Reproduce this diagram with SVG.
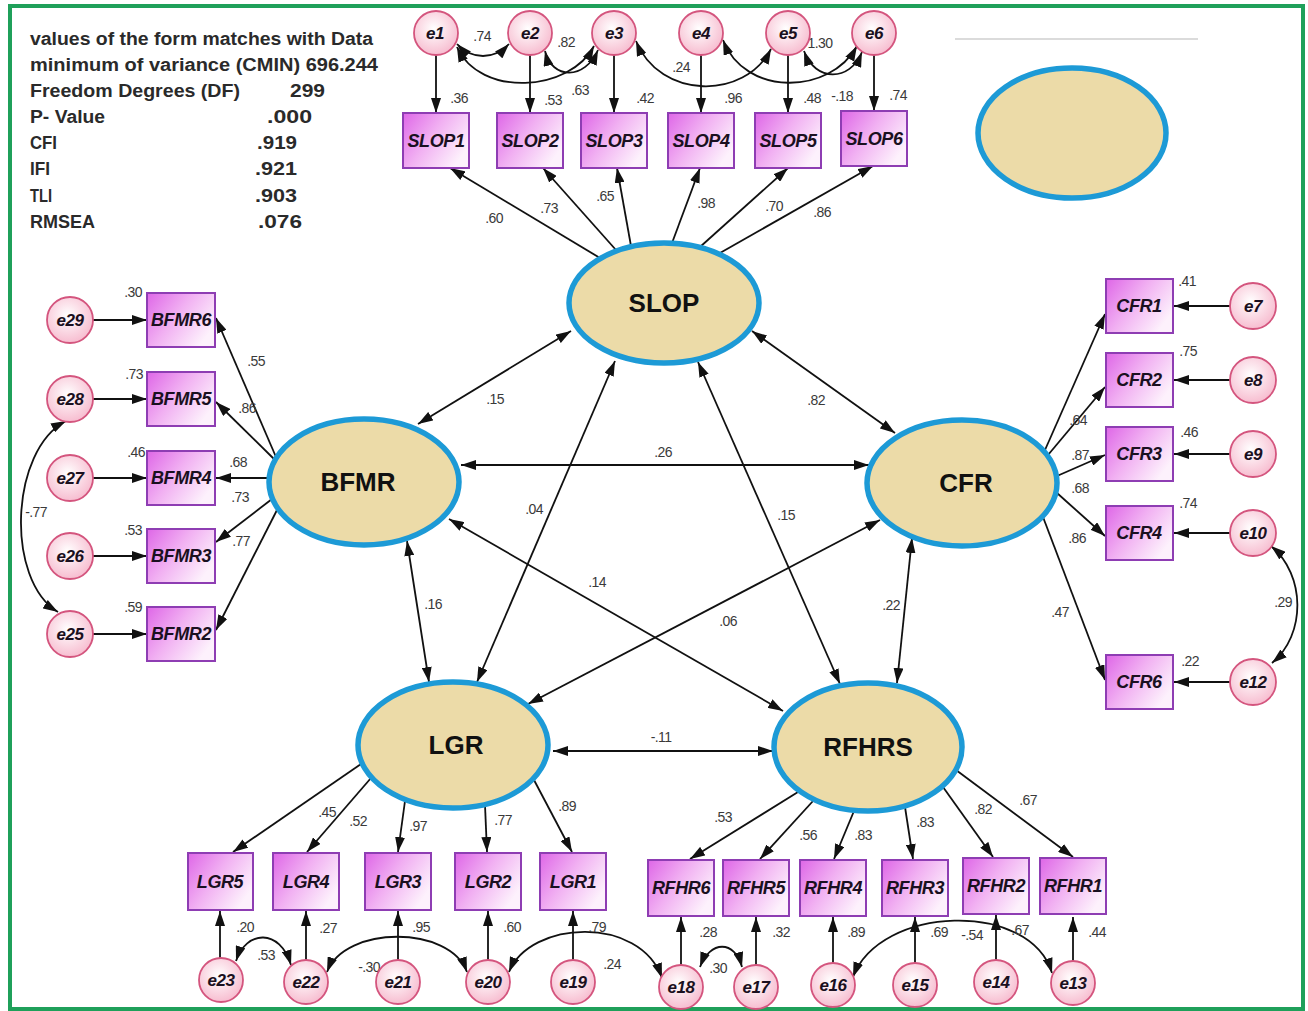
<svg xmlns="http://www.w3.org/2000/svg" width="1308" height="1011" viewBox="0 0 1308 1011">
<style>
.lbl{font-family:'Liberation Sans',Arial,sans-serif;font-size:14px;fill:#3a3a3a;text-anchor:middle;letter-spacing:-0.6px}
.bx{font-family:'Liberation Sans',Arial,sans-serif;font-size:18px;font-weight:bold;font-style:italic;fill:#1a1020;text-anchor:middle;letter-spacing:-0.4px}
.el{font-family:'Liberation Sans',Arial,sans-serif;font-size:17px;font-weight:bold;font-style:italic;fill:#1a1020;text-anchor:middle;letter-spacing:-0.4px}
.lt{font-family:'Liberation Sans',Arial,sans-serif;font-size:26px;font-weight:bold;fill:#111;text-anchor:middle}
.hd{font-family:'Liberation Sans',Arial,sans-serif;font-size:17.5px;font-weight:bold;fill:#2a2a2a}
.box{fill:url(#bg);stroke:#8e3db3;stroke-width:2}
.err{fill:url(#eg);stroke:#d4557e;stroke-width:1.8}
.lat{fill:#ecdba8;stroke:#1d9ad6;stroke-width:5.5}
.ln{stroke:#111;stroke-width:1.8;fill:none;marker-end:url(#ah)}
.dl{stroke:#111;stroke-width:1.8;fill:none;marker-start:url(#ah);marker-end:url(#ah)}
</style>
<defs>
<linearGradient id="bg" x1="0" y1="0" x2="1" y2="0.6">
<stop offset="0" stop-color="#de66e7"/>
<stop offset="0.5" stop-color="#f1b0f2"/>
<stop offset="1" stop-color="#fdf1fc"/>
</linearGradient>
<radialGradient id="eg" cx="0.45" cy="0.4" r="0.6">
<stop offset="0" stop-color="#ffffff"/>
<stop offset="1" stop-color="#f7bdd0"/>
</radialGradient>
<marker id="ah" viewBox="0 0 15 10" refX="15" refY="5" markerWidth="15" markerHeight="10" markerUnits="userSpaceOnUse" orient="auto-start-reverse">
<path d="M0,0 L15,5 L0,10 z" fill="#111"/>
</marker>
</defs>
<rect x="0" y="0" width="1308" height="1011" fill="#ffffff"/>
<rect x="10" y="6" width="1293" height="1003" fill="none" stroke="#1fa05a" stroke-width="4"/>
<line x1="955" y1="39" x2="1198" y2="39" stroke="#cfcfcf" stroke-width="1.5"/>

<g id="fit-stats">
<text class="hd" x="30" y="45" textLength="343" lengthAdjust="spacingAndGlyphs">values of the form matches with Data</text>
<text class="hd" x="30" y="71" textLength="348" lengthAdjust="spacingAndGlyphs">minimum of variance (CMIN) 696.244</text>
<text class="hd" x="30" y="97" textLength="210" lengthAdjust="spacingAndGlyphs">Freedom Degrees (DF)</text>
<text class="hd" x="290" y="97" textLength="35" lengthAdjust="spacingAndGlyphs">299</text>
<text class="hd" x="30" y="123" textLength="75" lengthAdjust="spacingAndGlyphs">P- Value</text>
<text class="hd" x="267" y="123" textLength="45" lengthAdjust="spacingAndGlyphs">.000</text>
<text class="hd" x="30" y="149" textLength="27" lengthAdjust="spacingAndGlyphs">CFI</text>
<text class="hd" x="257" y="149" textLength="40" lengthAdjust="spacingAndGlyphs">.919</text>
<text class="hd" x="30" y="175" textLength="20" lengthAdjust="spacingAndGlyphs">IFI</text>
<text class="hd" x="255" y="175" textLength="42" lengthAdjust="spacingAndGlyphs">.921</text>
<text class="hd" x="30" y="202" textLength="22" lengthAdjust="spacingAndGlyphs">TLI</text>
<text class="hd" x="255" y="202" textLength="42" lengthAdjust="spacingAndGlyphs">.903</text>
<text class="hd" x="30" y="228" textLength="65" lengthAdjust="spacingAndGlyphs">RMSEA</text>
<text class="hd" x="258" y="228" textLength="44" lengthAdjust="spacingAndGlyphs">.076</text>
</g>

<g id="connectors">
<line class="ln" x1="436" y1="55" x2="436" y2="113"/>
<line class="ln" x1="530" y1="55" x2="530" y2="113"/>
<line class="ln" x1="614" y1="55" x2="614" y2="113"/>
<line class="ln" x1="701" y1="55" x2="701" y2="113"/>
<line class="ln" x1="788" y1="55" x2="788" y2="113"/>
<line class="ln" x1="874" y1="55" x2="874" y2="111"/>
<path class="dl" d="M457,44 C472,60 494,60 509,44"/>
<path class="dl" d="M457,47 C480,98 570,92 594,46"/>
<path class="dl" d="M545,51 C552,80 585,80 598,50"/>
<path class="dl" d="M636,41 C660,100 745,100 771,49"/>
<path class="dl" d="M723,40 C745,97 830,95 857,46"/>
<path class="dl" d="M804,51 C815,82 850,82 862,52"/>
<line class="ln" x1="600" y1="258" x2="450" y2="168"/>
<line class="ln" x1="616" y1="250" x2="543" y2="168"/>
<line class="ln" x1="631" y1="246" x2="617" y2="168"/>
<line class="ln" x1="672" y1="243" x2="700" y2="168"/>
<line class="ln" x1="700" y1="247" x2="788" y2="168"/>
<line class="ln" x1="720" y1="253" x2="873" y2="166"/>
<line class="ln" x1="93" y1="320" x2="147" y2="320"/>
<line class="ln" x1="93" y1="399" x2="147" y2="399"/>
<line class="ln" x1="93" y1="478" x2="147" y2="478"/>
<line class="ln" x1="93" y1="556" x2="147" y2="556"/>
<line class="ln" x1="93" y1="634" x2="147" y2="634"/>
<path class="dl" d="M66,421 C10,450 5,580 58,612"/>
<line class="ln" x1="276" y1="457" x2="216" y2="318"/>
<line class="ln" x1="274" y1="459" x2="216" y2="402"/>
<line class="ln" x1="268" y1="478" x2="216" y2="478"/>
<line class="ln" x1="272" y1="499" x2="216" y2="542"/>
<line class="ln" x1="277" y1="510" x2="216" y2="630"/>
<line class="ln" x1="1230" y1="306" x2="1174" y2="306"/>
<line class="ln" x1="1230" y1="380" x2="1174" y2="380"/>
<line class="ln" x1="1230" y1="454" x2="1174" y2="454"/>
<line class="ln" x1="1230" y1="533" x2="1174" y2="533"/>
<line class="ln" x1="1230" y1="682" x2="1174" y2="682"/>
<path class="dl" d="M1271,546 C1306,575 1306,635 1272,663"/>
<line class="ln" x1="1045" y1="450" x2="1105" y2="314"/>
<line class="ln" x1="1048" y1="455" x2="1105" y2="387"/>
<line class="ln" x1="1057" y1="476" x2="1105" y2="455"/>
<line class="ln" x1="1057" y1="493" x2="1105" y2="536"/>
<line class="ln" x1="1043" y1="517" x2="1105" y2="680"/>
<line class="dl" x1="571" y1="331" x2="418" y2="424"/>
<line class="dl" x1="752" y1="331" x2="895" y2="433"/>
<line class="dl" x1="461" y1="465" x2="869" y2="465"/>
<line class="dl" x1="615" y1="361" x2="477" y2="682"/>
<line class="dl" x1="698" y1="362" x2="840" y2="684"/>
<line class="dl" x1="449" y1="519" x2="783" y2="711"/>
<line class="dl" x1="880" y1="520" x2="528" y2="704"/>
<line class="dl" x1="407" y1="541" x2="429" y2="682"/>
<line class="dl" x1="912" y1="538" x2="897" y2="683"/>
<line class="dl" x1="553" y1="751" x2="773" y2="751"/>
<line class="ln" x1="361" y1="764" x2="233" y2="852"/>
<line class="ln" x1="371" y1="778" x2="307" y2="852"/>
<line class="ln" x1="405" y1="801" x2="398" y2="852"/>
<line class="ln" x1="485" y1="805" x2="487" y2="852"/>
<line class="ln" x1="534" y1="780" x2="572" y2="852"/>
<line class="ln" x1="220" y1="958" x2="220" y2="911"/>
<line class="ln" x1="306" y1="960" x2="306" y2="911"/>
<line class="ln" x1="398" y1="960" x2="398" y2="911"/>
<line class="ln" x1="488" y1="960" x2="488" y2="911"/>
<line class="ln" x1="573" y1="960" x2="573" y2="911"/>
<path class="dl" d="M236,961 C246,930 280,928 291,965"/>
<path class="dl" d="M327,972 C345,925 450,925 467,972"/>
<path class="dl" d="M509,972 C530,920 640,915 662,978"/>
<line class="ln" x1="798" y1="792" x2="690" y2="859"/>
<line class="ln" x1="813" y1="801" x2="760" y2="859"/>
<line class="ln" x1="854" y1="811" x2="834" y2="859"/>
<line class="ln" x1="905" y1="807" x2="913" y2="859"/>
<line class="ln" x1="943" y1="787" x2="993" y2="857"/>
<line class="ln" x1="956" y1="770" x2="1073" y2="857"/>
<line class="ln" x1="681" y1="965" x2="681" y2="917"/>
<line class="ln" x1="756" y1="965" x2="756" y2="917"/>
<line class="ln" x1="833" y1="963" x2="833" y2="917"/>
<line class="ln" x1="915" y1="963" x2="915" y2="917"/>
<line class="ln" x1="996" y1="960" x2="996" y2="915"/>
<line class="ln" x1="1073" y1="961" x2="1073" y2="917"/>
<path class="dl" d="M700,967 C710,940 735,940 742,967"/>
<path class="dl" d="M853,977 C880,905 1030,900 1052,973"/>
</g>

<g id="labels">
<text class="lbl" x="482" y="41">.74</text>
<text class="lbl" x="566" y="47">.82</text>
<text class="lbl" x="459" y="103">.36</text>
<text class="lbl" x="553" y="105">.53</text>
<text class="lbl" x="580" y="95">.63</text>
<text class="lbl" x="645" y="103">.42</text>
<text class="lbl" x="681" y="72">.24</text>
<text class="lbl" x="733" y="103">.96</text>
<text class="lbl" x="818" y="48">-1.30</text>
<text class="lbl" x="812" y="103">.48</text>
<text class="lbl" x="842" y="101">-.18</text>
<text class="lbl" x="898" y="100">.74</text>
<text class="lbl" x="494" y="223">.60</text>
<text class="lbl" x="549" y="213">.73</text>
<text class="lbl" x="605" y="201">.65</text>
<text class="lbl" x="706" y="208">.98</text>
<text class="lbl" x="774" y="211">.70</text>
<text class="lbl" x="822" y="217">.86</text>
<text class="lbl" x="133" y="297">.30</text>
<text class="lbl" x="134" y="379">.73</text>
<text class="lbl" x="136" y="457">.46</text>
<text class="lbl" x="133" y="535">.53</text>
<text class="lbl" x="133" y="612">.59</text>
<text class="lbl" x="256" y="366">.55</text>
<text class="lbl" x="247" y="413">.86</text>
<text class="lbl" x="238" y="467">.68</text>
<text class="lbl" x="240" y="502">.73</text>
<text class="lbl" x="241" y="546">.77</text>
<text class="lbl" x="36" y="517">-.77</text>
<text class="lbl" x="1187" y="286">.41</text>
<text class="lbl" x="1188" y="356">.75</text>
<text class="lbl" x="1189" y="437">.46</text>
<text class="lbl" x="1188" y="508">.74</text>
<text class="lbl" x="1190" y="666">.22</text>
<text class="lbl" x="1078" y="425">.64</text>
<text class="lbl" x="1080" y="460">.87</text>
<text class="lbl" x="1080" y="493">.68</text>
<text class="lbl" x="1077" y="543">.86</text>
<text class="lbl" x="1060" y="617">.47</text>
<text class="lbl" x="1283" y="607">.29</text>
<text class="lbl" x="495" y="404">.15</text>
<text class="lbl" x="816" y="405">.82</text>
<text class="lbl" x="663" y="457">.26</text>
<text class="lbl" x="534" y="514">.04</text>
<text class="lbl" x="786" y="520">.15</text>
<text class="lbl" x="597" y="587">.14</text>
<text class="lbl" x="728" y="626">.06</text>
<text class="lbl" x="433" y="609">.16</text>
<text class="lbl" x="891" y="610">.22</text>
<text class="lbl" x="661" y="742">-.11</text>
<text class="lbl" x="327" y="817">.45</text>
<text class="lbl" x="358" y="826">.52</text>
<text class="lbl" x="418" y="831">.97</text>
<text class="lbl" x="503" y="825">.77</text>
<text class="lbl" x="567" y="811">.89</text>
<text class="lbl" x="245" y="932">.20</text>
<text class="lbl" x="328" y="933">.27</text>
<text class="lbl" x="421" y="932">.95</text>
<text class="lbl" x="512" y="932">.60</text>
<text class="lbl" x="597" y="932">.79</text>
<text class="lbl" x="266" y="960">.53</text>
<text class="lbl" x="369" y="972">-.30</text>
<text class="lbl" x="612" y="969">.24</text>
<text class="lbl" x="723" y="822">.53</text>
<text class="lbl" x="808" y="840">.56</text>
<text class="lbl" x="863" y="840">.83</text>
<text class="lbl" x="925" y="827">.83</text>
<text class="lbl" x="983" y="814">.82</text>
<text class="lbl" x="1028" y="805">.67</text>
<text class="lbl" x="708" y="937">.28</text>
<text class="lbl" x="781" y="937">.32</text>
<text class="lbl" x="856" y="937">.89</text>
<text class="lbl" x="939" y="937">.69</text>
<text class="lbl" x="972" y="940">-.54</text>
<text class="lbl" x="1020" y="935">.67</text>
<text class="lbl" x="1097" y="937">.44</text>
<text class="lbl" x="718" y="973">.30</text>
</g>

<g id="SLOP"><ellipse class="lat" cx="664" cy="303" rx="95" ry="60"/><text class="lt" x="664" y="312">SLOP</text></g>
<g id="BFMR"><ellipse class="lat" cx="364" cy="482" rx="95" ry="63"/><text class="lt" x="358" y="491">BFMR</text></g>
<g id="CFR"><ellipse class="lat" cx="962" cy="483" rx="95" ry="63"/><text class="lt" x="966" y="492">CFR</text></g>
<g id="LGR"><ellipse class="lat" cx="453" cy="745" rx="95" ry="63"/><text class="lt" x="456" y="754">LGR</text></g>
<g id="RFHRS"><ellipse class="lat" cx="868" cy="747" rx="94" ry="64"/><text class="lt" x="868" y="756">RFHRS</text></g>
<g id="blank"><ellipse class="lat" cx="1072" cy="133" rx="94" ry="65"/></g>

<g id="SLOP1"><rect class="box" x="403" y="113" width="66" height="55"/><text class="bx" x="436" y="147">SLOP1</text></g>
<g id="SLOP2"><rect class="box" x="497" y="113" width="66" height="55"/><text class="bx" x="530" y="147">SLOP2</text></g>
<g id="SLOP3"><rect class="box" x="581" y="113" width="66" height="55"/><text class="bx" x="614" y="147">SLOP3</text></g>
<g id="SLOP4"><rect class="box" x="668" y="113" width="66" height="55"/><text class="bx" x="701" y="147">SLOP4</text></g>
<g id="SLOP5"><rect class="box" x="755" y="113" width="66" height="55"/><text class="bx" x="788" y="147">SLOP5</text></g>
<g id="SLOP6"><rect class="box" x="841" y="111" width="66" height="55"/><text class="bx" x="874" y="145">SLOP6</text></g>

<g id="e1"><circle class="err" cx="436" cy="33" r="22"/><text class="el" x="435" y="39">e1</text></g>
<g id="e2"><circle class="err" cx="530" cy="33" r="22"/><text class="el" x="530" y="39">e2</text></g>
<g id="e3"><circle class="err" cx="614" cy="33" r="22"/><text class="el" x="614" y="39">e3</text></g>
<g id="e4"><circle class="err" cx="701" cy="33" r="22"/><text class="el" x="701" y="39">e4</text></g>
<g id="e5"><circle class="err" cx="788" cy="33" r="22"/><text class="el" x="788" y="39">e5</text></g>
<g id="e6"><circle class="err" cx="874" cy="33" r="22"/><text class="el" x="874" y="39">e6</text></g>

<g id="BFMR6"><rect class="box" x="147" y="293" width="68" height="54"/><text class="bx" x="181" y="326">BFMR6</text></g>
<g id="BFMR5"><rect class="box" x="147" y="372" width="68" height="54"/><text class="bx" x="181" y="405">BFMR5</text></g>
<g id="BFMR4"><rect class="box" x="147" y="451" width="68" height="54"/><text class="bx" x="181" y="484">BFMR4</text></g>
<g id="BFMR3"><rect class="box" x="147" y="529" width="68" height="54"/><text class="bx" x="181" y="562">BFMR3</text></g>
<g id="BFMR2"><rect class="box" x="147" y="607" width="68" height="54"/><text class="bx" x="181" y="640">BFMR2</text></g>
<g id="e29"><circle class="err" cx="70" cy="320" r="23"/><text class="el" x="70" y="326">e29</text></g>
<g id="e28"><circle class="err" cx="70" cy="399" r="23"/><text class="el" x="70" y="405">e28</text></g>
<g id="e27"><circle class="err" cx="70" cy="478" r="23"/><text class="el" x="70" y="484">e27</text></g>
<g id="e26"><circle class="err" cx="70" cy="556" r="23"/><text class="el" x="70" y="562">e26</text></g>
<g id="e25"><circle class="err" cx="70" cy="634" r="23"/><text class="el" x="70" y="640">e25</text></g>

<g id="CFR1"><rect class="box" x="1106" y="279" width="67" height="54"/><text class="bx" x="1139" y="312">CFR1</text></g>
<g id="CFR2"><rect class="box" x="1106" y="353" width="67" height="54"/><text class="bx" x="1139" y="386">CFR2</text></g>
<g id="CFR3"><rect class="box" x="1106" y="427" width="67" height="54"/><text class="bx" x="1139" y="460">CFR3</text></g>
<g id="CFR4"><rect class="box" x="1106" y="506" width="67" height="54"/><text class="bx" x="1139" y="539">CFR4</text></g>
<g id="CFR6"><rect class="box" x="1106" y="655" width="67" height="54"/><text class="bx" x="1139" y="688">CFR6</text></g>
<g id="e7"><circle class="err" cx="1253" cy="306" r="23"/><text class="el" x="1253" y="312">e7</text></g>
<g id="e8"><circle class="err" cx="1253" cy="380" r="23"/><text class="el" x="1253" y="386">e8</text></g>
<g id="e9"><circle class="err" cx="1253" cy="454" r="23"/><text class="el" x="1253" y="460">e9</text></g>
<g id="e10"><circle class="err" cx="1253" cy="533" r="23"/><text class="el" x="1253" y="539">e10</text></g>
<g id="e12"><circle class="err" cx="1253" cy="682" r="23"/><text class="el" x="1253" y="688">e12</text></g>

<g id="LGR5"><rect class="box" x="188" y="853" width="65" height="57"/><text class="bx" x="220" y="888">LGR5</text></g>
<g id="LGR4"><rect class="box" x="273" y="853" width="66" height="57"/><text class="bx" x="306" y="888">LGR4</text></g>
<g id="LGR3"><rect class="box" x="365" y="853" width="66" height="57"/><text class="bx" x="398" y="888">LGR3</text></g>
<g id="LGR2"><rect class="box" x="455" y="853" width="66" height="57"/><text class="bx" x="488" y="888">LGR2</text></g>
<g id="LGR1"><rect class="box" x="540" y="853" width="66" height="57"/><text class="bx" x="573" y="888">LGR1</text></g>
<g id="e23"><circle class="err" cx="221" cy="980" r="22"/><text class="el" x="221" y="986">e23</text></g>
<g id="e22"><circle class="err" cx="306" cy="982" r="22"/><text class="el" x="306" y="988">e22</text></g>
<g id="e21"><circle class="err" cx="398" cy="982" r="22"/><text class="el" x="398" y="988">e21</text></g>
<g id="e20"><circle class="err" cx="488" cy="982" r="22"/><text class="el" x="488" y="988">e20</text></g>
<g id="e19"><circle class="err" cx="573" cy="982" r="22"/><text class="el" x="573" y="988">e19</text></g>

<g id="RFHR6"><rect class="box" x="648" y="860" width="66" height="56"/><text class="bx" x="681" y="894">RFHR6</text></g>
<g id="RFHR5"><rect class="box" x="723" y="860" width="66" height="56"/><text class="bx" x="756" y="894">RFHR5</text></g>
<g id="RFHR4"><rect class="box" x="800" y="860" width="66" height="56"/><text class="bx" x="833" y="894">RFHR4</text></g>
<g id="RFHR3"><rect class="box" x="882" y="860" width="66" height="56"/><text class="bx" x="915" y="894">RFHR3</text></g>
<g id="RFHR2"><rect class="box" x="963" y="858" width="66" height="56"/><text class="bx" x="996" y="892">RFHR2</text></g>
<g id="RFHR1"><rect class="box" x="1040" y="858" width="66" height="56"/><text class="bx" x="1073" y="892">RFHR1</text></g>
<g id="e18"><circle class="err" cx="681" cy="987" r="22"/><text class="el" x="681" y="993">e18</text></g>
<g id="e17"><circle class="err" cx="756" cy="987" r="22"/><text class="el" x="756" y="993">e17</text></g>
<g id="e16"><circle class="err" cx="833" cy="985" r="22"/><text class="el" x="833" y="991">e16</text></g>
<g id="e15"><circle class="err" cx="915" cy="985" r="22"/><text class="el" x="915" y="991">e15</text></g>
<g id="e14"><circle class="err" cx="996" cy="982" r="22"/><text class="el" x="996" y="988">e14</text></g>
<g id="e13"><circle class="err" cx="1073" cy="983" r="22"/><text class="el" x="1073" y="989">e13</text></g>
</svg>
